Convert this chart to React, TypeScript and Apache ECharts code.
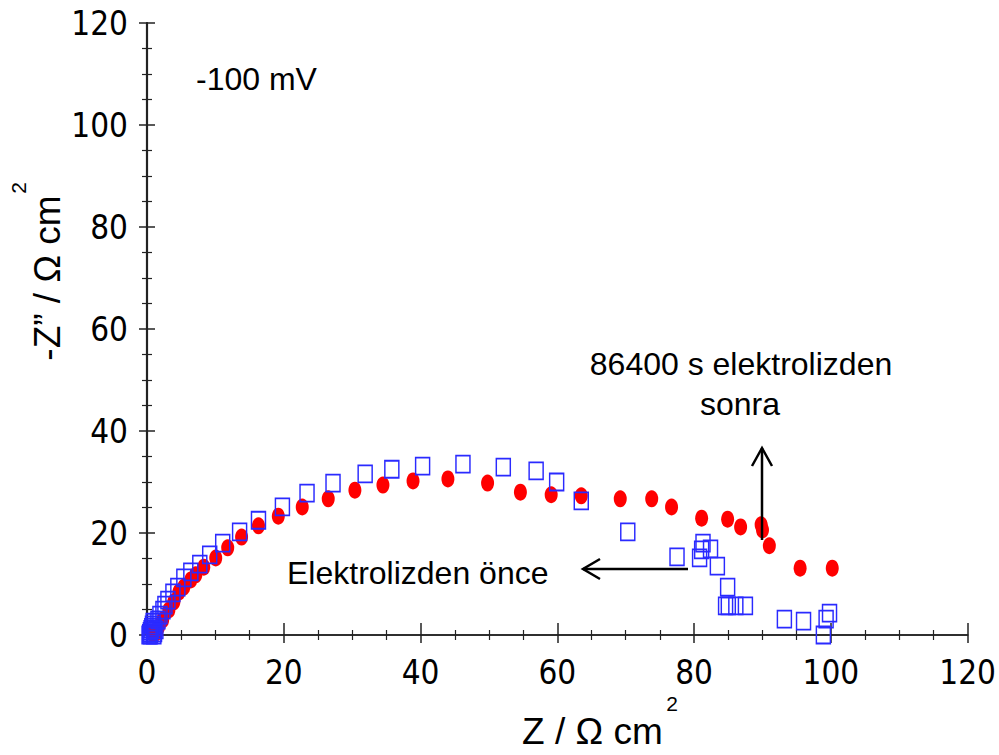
import React, { useEffect, useRef } from "react";
import * as echarts from "echarts";

// Data: [Z', -Z''] in Ω cm²
const afterData: [number, number][] = [
  [0.8, 0.3], [1.0, 0.6], [1.2, 0.3], [1.41, 0.6], [1.7, 1.6], [2.29, 2.94], [3.2, 4.9], [3.93, 6.5],
  [4.66, 8.4], [5.39, 9.4], [6.41, 10.8], [7.14, 11.8], [8.3, 13.3],
  [10.05, 15.1], [11.8, 17.1], [13.83, 19.2], [16.3, 21.4], [19.2, 23.3],
  [22.7, 25.1], [26.5, 26.7], [30.4, 28.4], [34.5, 29.4], [38.9, 30.2],
  [44.0, 30.6], [49.8, 29.8], [54.6, 28.0], [59.1, 27.5], [63.5, 27.3],
  [69.2, 26.7], [73.8, 26.7], [76.7, 25.1], [81.1, 22.9], [84.9, 22.7],
  [86.8, 21.2], [89.8, 21.6], [90.0, 20.6], [91.0, 17.5], [95.5, 13.1], [100.2, 13.1],
];

const beforeData: [number, number][] = [
  [0.3, 0], [0.4, 0.3], [0.5, 0.7], [0.6, 1.1], [0.7, 1.5], [0.8, 2.0], [0.9, 2.5],
  [1.1, 0.4], [1.3, 1.0], [0.5, 0], [1.0, 0],
  [1.02, 1.57], [1.6, 2.94], [1.89, 3.92], [2.33, 4.9], [2.62, 5.88], [3.06, 6.86],
  [3.79, 8.24], [4.51, 9.4], [5.39, 11.2], [6.41, 12.4], [7.72, 13.9],
  [9.17, 15.7], [11.07, 18.0], [13.54, 20.2], [16.3, 22.5], [19.8, 25.1],
  [23.4, 27.8], [27.2, 29.8], [31.9, 31.6], [35.8, 32.5], [40.3, 33.1],
  [46.2, 33.5], [52.1, 32.9], [56.9, 32.2], [59.9, 30.0], [63.5, 26.3],
  [70.3, 20.2], [77.5, 15.3], [80.8, 15.1], [81.1, 16.7], [81.3, 18.0],
  [82.4, 16.9], [83.4, 13.5], [84.9, 9.4], [84.6, 5.7], [85.0, 5.7],
  [86.1, 5.7], [87.5, 5.7], [93.2, 3.1], [96.0, 2.7], [99.3, 3.1],
  [99.8, 4.3], [98.9, 0],
];

const axisMin = 0;
const axisMax = 120;
const axisInterval = 20;

const labelFont = "'Liberation Sans Narrow', 'DejaVu Sans Condensed', 'Liberation Sans', sans-serif";
const textFont = "'Liberation Sans', Arial, sans-serif";

export default function App() {
  const ref = useRef<HTMLDivElement>(null);

  useEffect(() => {
    if (!ref.current) return;
    const chart = echarts.init(ref.current, undefined, { renderer: "svg" });

    const axisLine = { show: true, lineStyle: { color: "#222", width: 1.6 } };

    const baseAxis = (show: boolean, tickLen: number) => ({
      type: "value" as const,
      min: axisMin,
      max: axisMax,
      interval: axisInterval,
      axisLine,
      axisTick: { show: true, inside: false, length: tickLen, lineStyle: { color: "#222", width: 1.5 } },
      minorTick: { show: true, splitNumber: 4, length: 5, lineStyle: { color: "#222", width: 1.2 } },
      splitLine: { show: false },
      minorSplitLine: { show: false },
      axisLabel: show
        ? { show: true, color: "#000", fontSize: 33, fontFamily: labelFont, margin: 19 }
        : { show: false },
    });

    const xBottom: any = baseAxis(true, 8);
    xBottom.position = "bottom";
    xBottom.axisLabel.margin = 21;
    const xTop: any = baseAxis(false, 12);
    xTop.position = "top";
    const yLeft: any = baseAxis(true, 8);
    yLeft.position = "left";
    const yRight: any = baseAxis(false, 8);
    yRight.position = "right";
    yRight.axisLine = { show: true, lineStyle: { color: "#222", width: 2.2 } };

    const arrowStyle = { stroke: "#000", lineWidth: 2.5 };
    const annFont = `32px ${textFont}`;

    chart.setOption({
      animation: false,
      backgroundColor: "#fff",
      grid: { left: 147, right: 29, top: 23, bottom: 120, containLabel: false },
      xAxis: [xBottom, xTop],
      yAxis: [yLeft, yRight],
      series: [
        {
          type: "scatter",
          name: "86400 s elektrolizden sonra",
          data: afterData,
          symbol: "circle",
          symbolSize: [13, 17],
          itemStyle: { color: "#ff0000", opacity: 1 },
          xAxisIndex: 0,
          yAxisIndex: 0,
        },
        {
          type: "scatter",
          name: "Elektrolizden önce",
          data: beforeData,
          symbol: "rect",
          symbolSize: [14, 17],
          itemStyle: { color: "rgba(0,0,0,0)", borderColor: "#2a2aff", borderWidth: 1.6, opacity: 1 },
          xAxisIndex: 0,
          yAxisIndex: 0,
        },
      ],
      graphic: [
        {
          type: "text",
          x: 522,
          y: 731,
          style: { text: "Z / Ω cm", font: `37px ${textFont}`, fill: "#000", textAlign: "left", textVerticalAlign: "middle" },
        },
        {
          type: "text",
          x: 672,
          y: 703,
          style: { text: "2", font: `21px ${textFont}`, fill: "#000", textAlign: "center", textVerticalAlign: "middle" },
        },
        {
          type: "text",
          x: 47,
          y: 278,
          rotation: Math.PI / 2,
          style: { text: "-Z” / Ω cm", font: `37px ${textFont}`, fill: "#000", textAlign: "center", textVerticalAlign: "middle" },
        },
        {
          type: "text",
          x: 18,
          y: 188,
          rotation: Math.PI / 2,
          style: { text: "2", font: `21px ${textFont}`, fill: "#000", textAlign: "center", textVerticalAlign: "middle" },
        },
        {
          type: "text",
          x: 196,
          y: 79,
          style: { text: "-100 mV", font: annFont, fill: "#000", textAlign: "left", textVerticalAlign: "middle" },
        },
        {
          type: "text",
          x: 741,
          y: 364,
          style: { text: "86400 s elektrolizden", font: annFont, fill: "#000", textAlign: "center", textVerticalAlign: "middle" },
        },
        {
          type: "text",
          x: 740,
          y: 404,
          style: { text: "sonra", font: annFont, fill: "#000", textAlign: "center", textVerticalAlign: "middle" },
        },
        {
          type: "text",
          x: 287,
          y: 573,
          style: { text: "Elektrolizden önce", font: annFont, fill: "#000", textAlign: "left", textVerticalAlign: "middle" },
        },
        // vertical arrow
        { type: "line", shape: { x1: 762, y1: 540, x2: 762, y2: 448 }, style: arrowStyle, z: 100 },
        { type: "polyline", shape: { points: [[752, 466], [762, 448], [772, 466]] }, style: { ...arrowStyle, fill: "none" }, z: 100 },
        // horizontal arrow
        { type: "line", shape: { x1: 688, y1: 569, x2: 583, y2: 569 }, style: arrowStyle, z: 100 },
        { type: "polyline", shape: { points: [[600, 559], [583, 569], [600, 579]] }, style: { ...arrowStyle, fill: "none" }, z: 100 },
      ],
    });

    return () => chart.dispose();
  }, []);

  return <div ref={ref} style={{ width: 999, height: 755, position: "absolute", left: 0, top: 0 }} />;
}
